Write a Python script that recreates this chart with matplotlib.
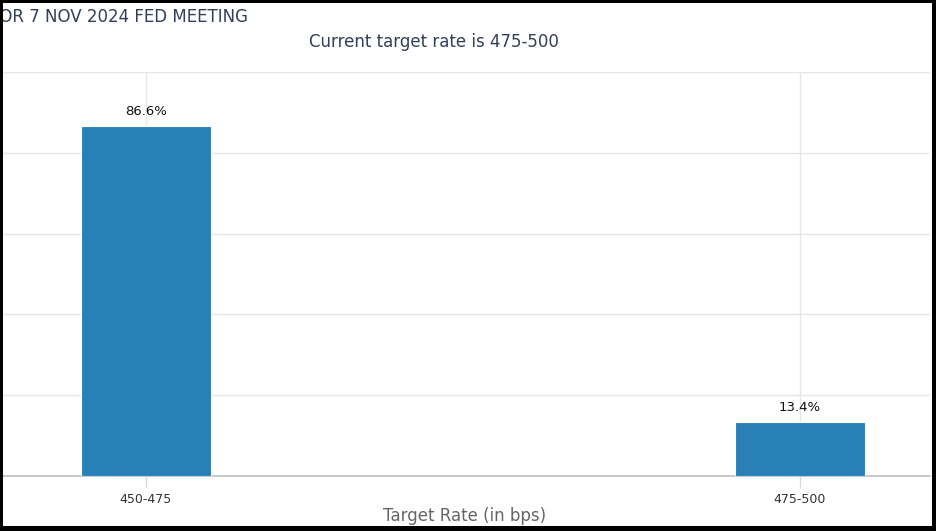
import matplotlib
matplotlib.use("Agg")
import matplotlib.pyplot as plt
from matplotlib.patches import Rectangle

categories = ["450-475", "475-500"]
probabilities = [86.6, 13.4]
value_labels = ["86.6%", "13.4%"]
yticks = [0, 20, 40, 60, 80, 100]
title_text = "TARGET RATE PROBABILITIES FOR 7 NOV 2024 FED MEETING"
subtitle_text = "Current target rate is 475-500"
xlabel_text = "Target Rate (in bps)"

W, H = 937, 531
fig = plt.figure(figsize=(W / 100, H / 100), dpi=100)
fig.patch.set_facecolor("white")

# axes: x 0..930 px, y 72..476 px (from top)
ax = fig.add_axes([0 / W, (H - 476) / H, 930 / W, (476 - 72) / H])
x = list(range(len(categories)))
ax.bar(x, probabilities, width=0.2, color="#2980b9", edgecolor="white",
       linewidth=0.8, zorder=3)
for xi, v, lab in zip(x, probabilities, value_labels):
    ax.annotate(lab, (xi, v), xytext=(0, 6), textcoords="offset points",
                ha="center", va="bottom", fontsize=9.5, color="#111111",
                family="DejaVu Sans", zorder=4)

ax.set_xlim(-146 / 654, 784 / 654)
ax.set_ylim(0, 100)
ax.set_yticks(yticks)
ax.set_yticklabels([])
ax.tick_params(axis="y", length=0)
ax.grid(axis="y", color="#e6e6e6", linewidth=1, zorder=0)
ax.grid(axis="x", color="#e6e6e6", linewidth=1, zorder=0)
ax.set_xticks(x)
ax.set_xticklabels(categories, fontsize=9, color="#333333", family="DejaVu Sans")
ax.tick_params(axis="x", length=8, width=1, color="#d8d8d8", pad=4)
for s in ["top", "right", "left"]:
    ax.spines[s].set_visible(False)
ax.spines["bottom"].set_color("#c0c0c0")
ax.spines["bottom"].set_linewidth(1.2)
ax.set_xlabel(xlabel_text, fontsize=12, color="#666666", labelpad=1,
              family="DejaVu Sans")

fig.text(248 / W, 1 - 17 / H, title_text, ha="right", va="center",
         fontsize=12, color="#333e5a", family="DejaVu Sans")
fig.text(434 / W, 1 - 42 / H, subtitle_text, ha="center", va="center",
         fontsize=12, color="#333e5a", family="DejaVu Sans")

# black frame (left 3px, top 3px, right 5px, bottom 5px)
for (x0, y0, w, h) in [(0, 0, 3, H), (0, H - 3, W, 3), (W - 5, 0, 5, H), (0, 0, W, 5)]:
    fig.patches.append(Rectangle((x0 / W, y0 / H), w / W, h / H,
                                 transform=fig.transFigure, facecolor="black",
                                 edgecolor="none", zorder=10))

fig.savefig("out.png", dpi=100, facecolor="white")
